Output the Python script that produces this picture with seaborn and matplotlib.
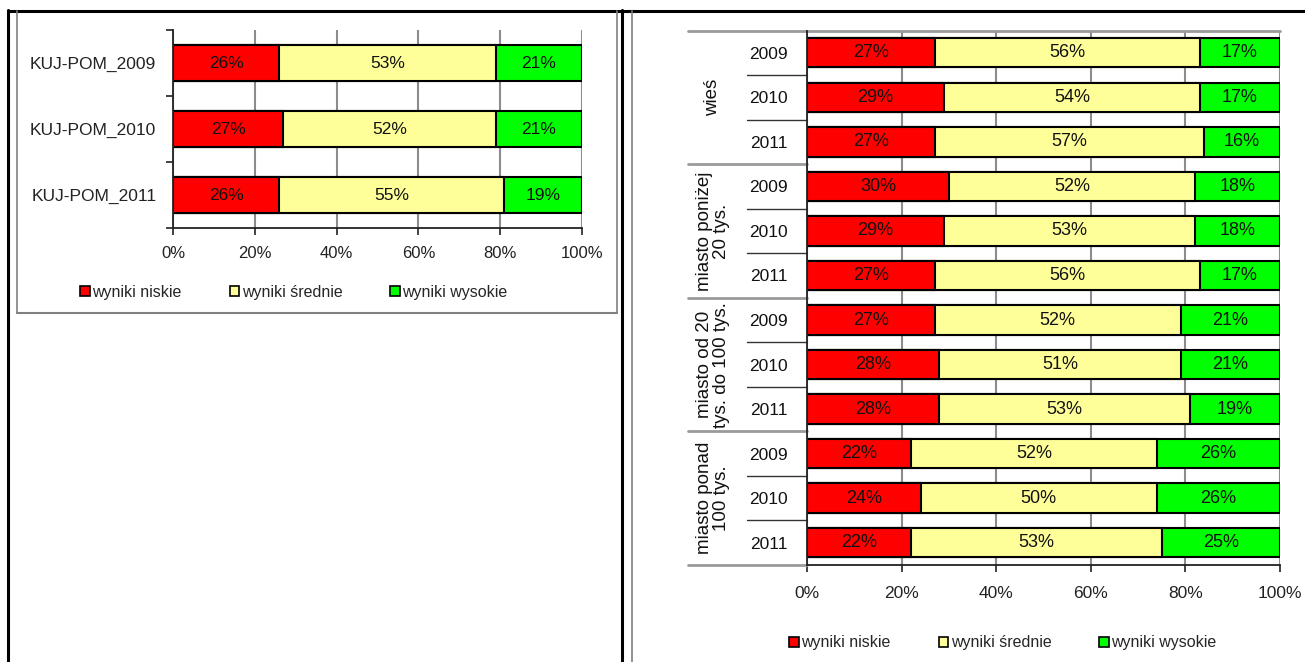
import numpy as np
import pandas as pd
import seaborn as sns
import matplotlib.pyplot as plt
from matplotlib.lines import Line2D
from matplotlib.patches import Patch
from matplotlib.ticker import FixedLocator, PercentFormatter

sns.set_style("white")
plt.rcParams['font.family'] = ['Liberation Sans', 'DejaVu Sans']

# Data
series_names = ["wyniki niskie", "wyniki średnie", "wyniki wysokie"]
colors = ["#FF0000", "#FFFF99", "#00FF00"]

kp_labels = ["KUJ-POM_2009", "KUJ-POM_2010", "KUJ-POM_2011"]
kp_niskie = [26, 27, 26]
kp_srednie = [53, 52, 55]
kp_wysokie = [21, 21, 19]

groups = ["wieś", "miasto poniżej\n20 tys.", "miasto od 20\ntys. do 100 tys.", "miasto ponad\n100 tys."]
years = ["2009", "2010", "2011"]
loc_niskie = [27, 29, 27, 30, 29, 27, 27, 28, 28, 22, 24, 22]
loc_srednie = [56, 54, 57, 52, 53, 56, 52, 51, 53, 52, 50, 53]
loc_wysokie = [17, 17, 16, 18, 18, 17, 21, 21, 19, 26, 26, 25]

W, H = 1305, 662
fig = plt.figure(figsize=(W / 100, H / 100), dpi=100)


def fx(x):
    return x / W


def fy(y):
    return 1 - y / H


def stacked(ax, labels, low, mid, high, width, fs):
    df = pd.DataFrame({"row": labels, "low": low, "mid": mid, "high": high})
    df["c1"] = df["low"]
    df["c2"] = df["low"] + df["mid"]
    df["c3"] = df["c2"] + df["high"]
    # draw totals first, then overlay the shorter cumulative bars
    for col, c in zip(["c3", "c2", "c1"], colors[::-1]):
        sns.barplot(data=df, x=col, y="row", orient="h", color=c, saturation=1,
                    edgecolor="black", linewidth=1.5, width=width, ax=ax, zorder=2)
    for i, r in df.iterrows():
        starts = [0, r["c1"], r["c2"]]
        for s, v in zip(starts, [r["low"], r["mid"], r["high"]]):
            ax.text(s + v / 2, i, f"{v}%", ha="center", va="center",
                    fontsize=fs, color="#111111", zorder=3)
    ax.set_xlim(0, 100)
    ax.set_xlabel("")
    ax.set_ylabel("")
    ax.xaxis.set_major_locator(FixedLocator([0, 20, 40, 60, 80, 100]))
    ax.xaxis.set_major_formatter(PercentFormatter(decimals=0))
    ax.grid(axis="x", color="#8c8c8c", lw=1.5, zorder=0)
    ax.set_axisbelow(True)
    for s in ["top", "right"]:
        ax.spines[s].set_visible(False)
    for s in ["left", "bottom"]:
        ax.spines[s].set_color("#222222")
        ax.spines[s].set_linewidth(1.3)
    return df


# Left chart
ax1 = fig.add_axes([fx(173), fy(228), fx(582 - 173), (228 - 30) / H])
stacked(ax1, kp_labels, kp_niskie, kp_srednie, kp_wysokie, 0.55, 12.5)
ax1.set_ylim(2.5, -0.5)
ax1.yaxis.set_minor_locator(FixedLocator([-0.5, 0.5, 1.5, 2.5]))
ax1.tick_params(axis="y", which="major", length=0, pad=12, labelsize=12.5, colors="#222222")
ax1.tick_params(axis="y", which="minor", length=5, width=1.2, color="#222222", left=True)
ax1.tick_params(axis="x", length=5, width=1.2, color="#222222", bottom=True, pad=8,
                labelsize=12, labelcolor="#222222")

fig.legend(handles=[Patch(facecolor=c, edgecolor="black", lw=1.2) for c in colors],
           labels=series_names, loc="center", bbox_to_anchor=(fx(294), fy(292)),
           ncol=3, frameon=False, fontsize=11.5, handlelength=0.6, handleheight=0.6,
           handletextpad=0.15, columnspacing=3.0)

# Right chart
row_labels = [f"{g}|{y}" for g in groups for y in years]
ax2 = fig.add_axes([fx(807), fy(565), fx(1280 - 807), (565 - 30.5) / H])
stacked(ax2, row_labels, loc_niskie, loc_srednie, loc_wysokie, 0.66, 13)
ax2.set_ylim(11.5, -0.5)
ax2.set_yticks(range(len(row_labels)))
ax2.set_yticklabels([r.split("|")[1] for r in row_labels])
ax2.tick_params(axis="y", length=0, pad=14, labelsize=12.5, labelcolor="#111111")
ax2.tick_params(axis="x", length=5, width=1.2, color="#222222", bottom=True, pad=10,
                labelsize=12.5, labelcolor="#222222")

tr = ax2.get_yaxis_transform()
gx0 = (688 - 807) / 473
yx0 = (747 - 807) / 473
for b in np.arange(-0.5, 12, 1.0):
    if b in (-0.5, 2.5, 5.5, 8.5, 11.5):
        x1 = 1.0 if b == -0.5 else 0
        ax2.plot([gx0, x1], [b, b], transform=tr, color="#9a9a9a", lw=2.0, clip_on=False, zorder=1)
    else:
        ax2.plot([yx0, 0], [b, b], transform=tr, color="#333333", lw=1.0, clip_on=False)
for k, g in enumerate(groups):
    ax2.text((713 - 807) / 473, 3 * k + 1, g, transform=tr, rotation=90,
             ha="center", va="center", fontsize=13.5, color="#111111",
             linespacing=0.95, multialignment="center")

fig.legend(handles=[Patch(facecolor=c, edgecolor="black", lw=1.2) for c in colors],
           labels=series_names, loc="center", bbox_to_anchor=(fx(1003), fy(643)),
           ncol=3, frameon=False, fontsize=11.5, handlelength=0.6, handleheight=0.6,
           handletextpad=0.15, columnspacing=3.0)

# Page frame
def fline(xs, ys, color, lw):
    fig.add_artist(Line2D([fx(x) for x in xs], [fy(y) for y in ys], color=color, lw=lw))

fline([8, W], [10.7, 10.7], "black", 2.2)
fline([8.3, 8.3], [10, H], "black", 2.2)
fline([622, 622], [10, H], "black", 2.2)
fline([16.7, 16.7], [11, 313], "#808080", 1.2)
fline([616.7, 616.7], [11, 313], "#808080", 1.2)
fline([16.7, 616.7], [313, 313], "#808080", 1.5)
fline([632.3, 632.3], [11, H], "#808080", 1.2)

fig.savefig("out.png", dpi=100)
